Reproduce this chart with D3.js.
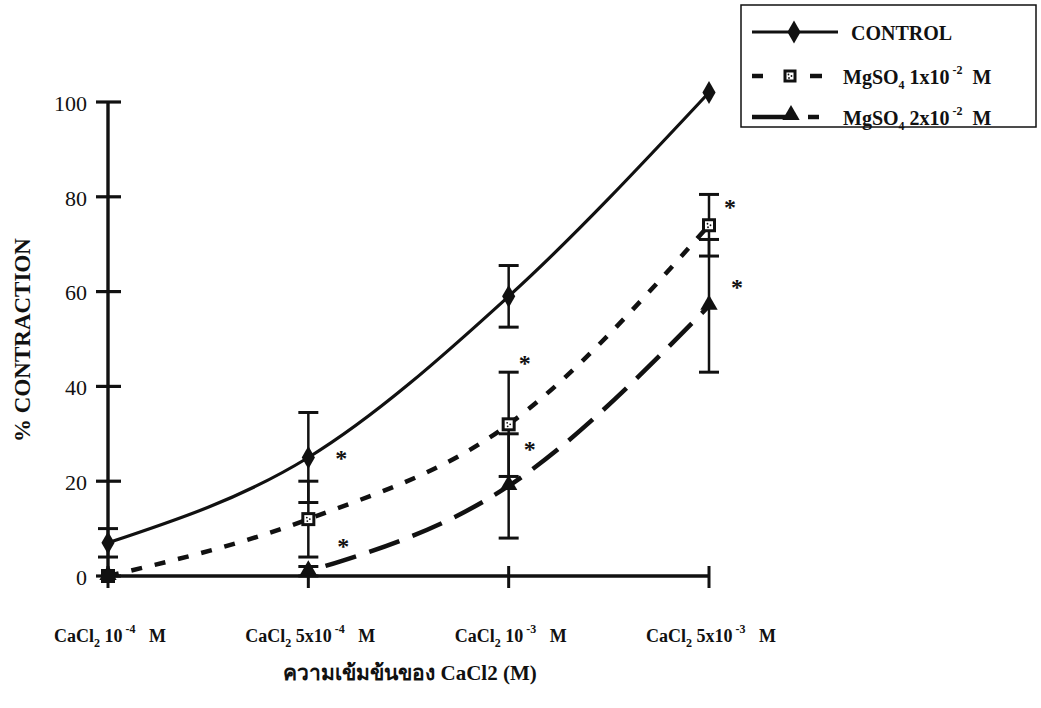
<!DOCTYPE html>
<html>
<head>
<meta charset="utf-8">
<script src="https://cdn.jsdelivr.net/npm/d3@7"></script>
<style>
  html, body { margin: 0; padding: 0; background: #fff; }
  svg { display: block; }
</style>
</head>
<body>
<svg id="chart" width="1041" height="708"></svg>
<script>
// Categories on the x axis (CaCl2 concentration)
const categories = ["1e-4", "5e-4", "1e-3", "5e-3"];
const categoryLabels = [
  { pre: "", mant: "10", exp: "-4" },
  { pre: "5x", mant: "10", exp: "-4" },
  { pre: "", mant: "10", exp: "-3" },
  { pre: "5x", mant: "10", exp: "-3" }
];

// % contraction, mean values
const controlValues = [7, 25, 59, 102];
const mg1Values = [0, 12, 32, 74];
const mg2Values = [0, 1, 19, 57];

// error bar half-widths (SEM)
const controlErr = [3, 9.5, 6.5, 0];
const mg1Err = [0, 8, 11, 6.5];
const mg2Err = [0, 1, 11, 14];

// significance marks (value where the star sits, per category)
const mg1Stars = [null, 27, 47, 80];
const mg2Stars = [null, 8.5, 29, 63];

const yTicks = [0, 20, 40, 60, 80, 100];

const SERIF = "'Liberation Serif', 'DejaVu Serif', serif";
const INK = "#111";

const svg = d3.select("#chart");
const x = d3.scalePoint().domain(categories).range([108, 709]);
const y = d3.scaleLinear().domain([0, 100]).range([576, 102]);

// ---- axes ----
const yAxis = svg.append("g").attr("transform", `translate(${x(categories[0])},0)`);
yAxis.append("line").attr("x1", 0).attr("x2", 0).attr("y1", y(0)).attr("y2", y(100))
  .attr("stroke", INK).attr("stroke-width", 3.4);
yAxis.selectAll("line.tick").data(yTicks).join("line").attr("class", "tick")
  .attr("x1", -12).attr("x2", 13).attr("y1", d => y(d)).attr("y2", d => y(d))
  .attr("stroke", INK).attr("stroke-width", 3.2);
yAxis.selectAll("text.tl").data(yTicks).join("text").attr("class", "tl")
  .attr("x", -21).attr("y", d => y(d) + 1).attr("dy", "0.35em")
  .attr("text-anchor", "end").attr("font-family", SERIF).attr("font-size", 22)
  .attr("fill", INK).text(d => d);

svg.append("line").attr("x1", x(categories[0])).attr("x2", x(categories[3]) + 1)
  .attr("y1", y(0)).attr("y2", y(0)).attr("stroke", INK).attr("stroke-width", 3.4);
svg.selectAll("line.xt").data(categories).join("line").attr("class", "xt")
  .attr("x1", d => x(d)).attr("x2", d => x(d)).attr("y1", y(0) - 10).attr("y2", y(0) + 12)
  .attr("stroke", INK).attr("stroke-width", 3);

// category labels: CaCl2 with subscripted 2 and superscripted exponent
const xl = svg.selectAll("text.xl").data(categories).join("text").attr("class", "xl")
  .attr("x", d => x(d) + 2).attr("y", 642).attr("text-anchor", "middle")
  .attr("font-family", SERIF).attr("font-size", 18).attr("font-weight", "bold").attr("fill", INK);
xl.each(function (d, i) {
  const t = d3.select(this);
  const c = categoryLabels[i];
  t.append("tspan").text("CaCl");
  t.append("tspan").attr("font-size", 12).attr("dy", 5).text("2");
  t.append("tspan").attr("dy", -5).text("\u00a0" + c.pre + c.mant);
  t.append("tspan").attr("font-size", 12).attr("dy", -9).text("\u00a0" + c.exp);
  t.append("tspan").attr("dy", 9).text("\u00a0\u00a0\u00a0M");
});

svg.append("text").attr("x", 410).attr("y", 680).attr("text-anchor", "middle")
  .attr("font-size", 21).attr("font-weight", "bold").attr("fill", INK)
  .attr("font-family", "'Liberation Serif', 'Noto Sans', 'DejaVu Sans', serif")
  .text("ความเข้มข้นของ CaCl2  (M)");

svg.append("text").attr("transform", "translate(30,340) rotate(-90)")
  .attr("text-anchor", "middle").attr("font-family", SERIF).attr("font-size", 23)
  .attr("font-weight", "bold").attr("fill", INK)
  .text("% CONTRACTION");

// ---- error bars ----
function errorBars(vals, errs) {
  const d = categories.map((c, i) => ({ c, v: vals[i], e: errs[i] })).filter(o => o.e > 0);
  const g = svg.append("g");
  g.selectAll("line.v").data(d).join("line")
    .attr("x1", o => x(o.c)).attr("x2", o => x(o.c))
    .attr("y1", o => y(o.v - o.e)).attr("y2", o => y(o.v + o.e))
    .attr("stroke", INK).attr("stroke-width", 2.5);
  [-1, 1].forEach(s => {
    g.selectAll(null).data(d).join("line")
      .attr("x1", o => x(o.c) - 10).attr("x2", o => x(o.c) + 10)
      .attr("y1", o => y(o.v + s * o.e)).attr("y2", o => y(o.v + s * o.e))
      .attr("stroke", INK).attr("stroke-width", 3);
  });
}
errorBars(controlValues, controlErr);
errorBars(mg1Values, mg1Err);
errorBars(mg2Values, mg2Err);

// ---- lines ----
const line = d3.line().x((d, i) => x(categories[i])).y(d => y(d)).curve(d3.curveMonotoneX);

svg.append("path").datum(controlValues).attr("d", line)
  .attr("fill", "none").attr("stroke", INK).attr("stroke-width", 3.2);
svg.append("path").datum(mg1Values).attr("d", line)
  .attr("fill", "none").attr("stroke", INK).attr("stroke-width", 4.5)
  .attr("stroke-dasharray", "11 13");
svg.append("path").datum(mg2Values.slice(1))
  .attr("d", d3.line().x((d, i) => x(categories[i + 1])).y(d => y(d)).curve(d3.curveMonotoneX))
  .attr("fill", "none").attr("stroke", INK).attr("stroke-width", 4.5)
  .attr("stroke-dasharray", "32 14").attr("stroke-dashoffset", -18);

// ---- markers ----
const diamond = d3.symbol().type(d3.symbolDiamond).size(150);
const tri = d3.symbol().type(d3.symbolTriangle).size(130);

svg.selectAll("path.ctl").data(controlValues).join("path").attr("class", "ctl")
  .attr("transform", (d, i) => `translate(${x(categories[i])},${y(d)})`)
  .attr("d", diamond).attr("fill", INK);

function squareMarker(g, cx, cy, s) {
  g.append("rect").attr("x", cx - s / 2).attr("y", cy - s / 2).attr("width", s).attr("height", s)
    .attr("fill", INK);
  g.append("rect").attr("x", cx - s / 2 + 3).attr("y", cy - s / 2 + 3).attr("width", s - 6).attr("height", s - 6)
    .attr("fill", "#fff");
  [[-1.5, -1.5], [1.5, 0], [-1, 2]].forEach(([dx, dy]) =>
    g.append("circle").attr("cx", cx + dx).attr("cy", cy + dy).attr("r", 0.9).attr("fill", INK));
}
const mg1Markers = svg.append("g");
mg1Values.forEach((v, i) => squareMarker(mg1Markers, x(categories[i]), y(v), 14));

svg.selectAll("path.tri").data(mg2Values).join("path").attr("class", "tri")
  .attr("transform", (d, i) => `translate(${x(categories[i])},${y(d) - 1})`)
  .attr("d", tri).attr("fill", INK);

// ---- significance stars ----
function stars(vals, dx) {
  svg.selectAll(null).data(vals.map((v, i) => ({ v, i })).filter(o => o.v !== null))
    .join("text").attr("x", o => x(categories[o.i]) + dx[o.i]).attr("y", o => y(o.v))
    .attr("dy", "0.75em").attr("text-anchor", "middle").attr("font-family", SERIF)
    .attr("font-size", 24).attr("font-weight", "bold").attr("fill", INK)
    .text("*");
}
stars(mg1Stars, [0, 33, 16, 21]);
stars(mg2Stars, [0, 35, 21, 28]);

// ---- legend ----
const lg = svg.append("g");
lg.append("rect").attr("x", 741).attr("y", 5).attr("width", 295).attr("height", 122)
  .attr("fill", "#fff").attr("stroke", INK).attr("stroke-width", 1.5);

lg.append("line").attr("x1", 752).attr("x2", 838).attr("y1", 32).attr("y2", 32)
  .attr("stroke", INK).attr("stroke-width", 3.2);
lg.append("path").attr("transform", "translate(794,32)").attr("d", diamond).attr("fill", INK);
lg.append("text").attr("x", 851).attr("y", 33).attr("dy", "0.35em").attr("font-family", SERIF)
  .attr("font-size", 20).attr("font-weight", "bold").attr("fill", INK).text("CONTROL");

lg.append("line").attr("x1", 752).attr("x2", 763).attr("y1", 76).attr("y2", 76)
  .attr("stroke", INK).attr("stroke-width", 4.5);
lg.append("line").attr("x1", 810).attr("x2", 822).attr("y1", 76).attr("y2", 76)
  .attr("stroke", INK).attr("stroke-width", 4.5);
squareMarker(lg, 790, 76, 13);

lg.append("line").attr("x1", 752).attr("x2", 786).attr("y1", 117).attr("y2", 117)
  .attr("stroke", INK).attr("stroke-width", 4.5);
lg.append("line").attr("x1", 808).attr("x2", 819).attr("y1", 117).attr("y2", 117)
  .attr("stroke", INK).attr("stroke-width", 4.5);
lg.append("path").attr("transform", "translate(791,115)").attr("d", tri).attr("fill", INK);

[["1", 77], ["2", 118]].forEach(([n, yy]) => {
  const t = lg.append("text").attr("x", 843).attr("y", yy).attr("dy", "0.35em")
    .attr("font-family", SERIF).attr("font-size", 20).attr("font-weight", "bold").attr("fill", INK);
  t.append("tspan").text("MgSO");
  t.append("tspan").attr("font-size", 12).attr("dy", 5).text("4");
  t.append("tspan").attr("dy", -5).text(" " + n + "x10");
  t.append("tspan").attr("font-size", 12).attr("dy", -10).text("\u00a0-2");
  t.append("tspan").attr("dy", 10).text("\u00a0\u00a0M");
});
</script>
</body>
</html>
